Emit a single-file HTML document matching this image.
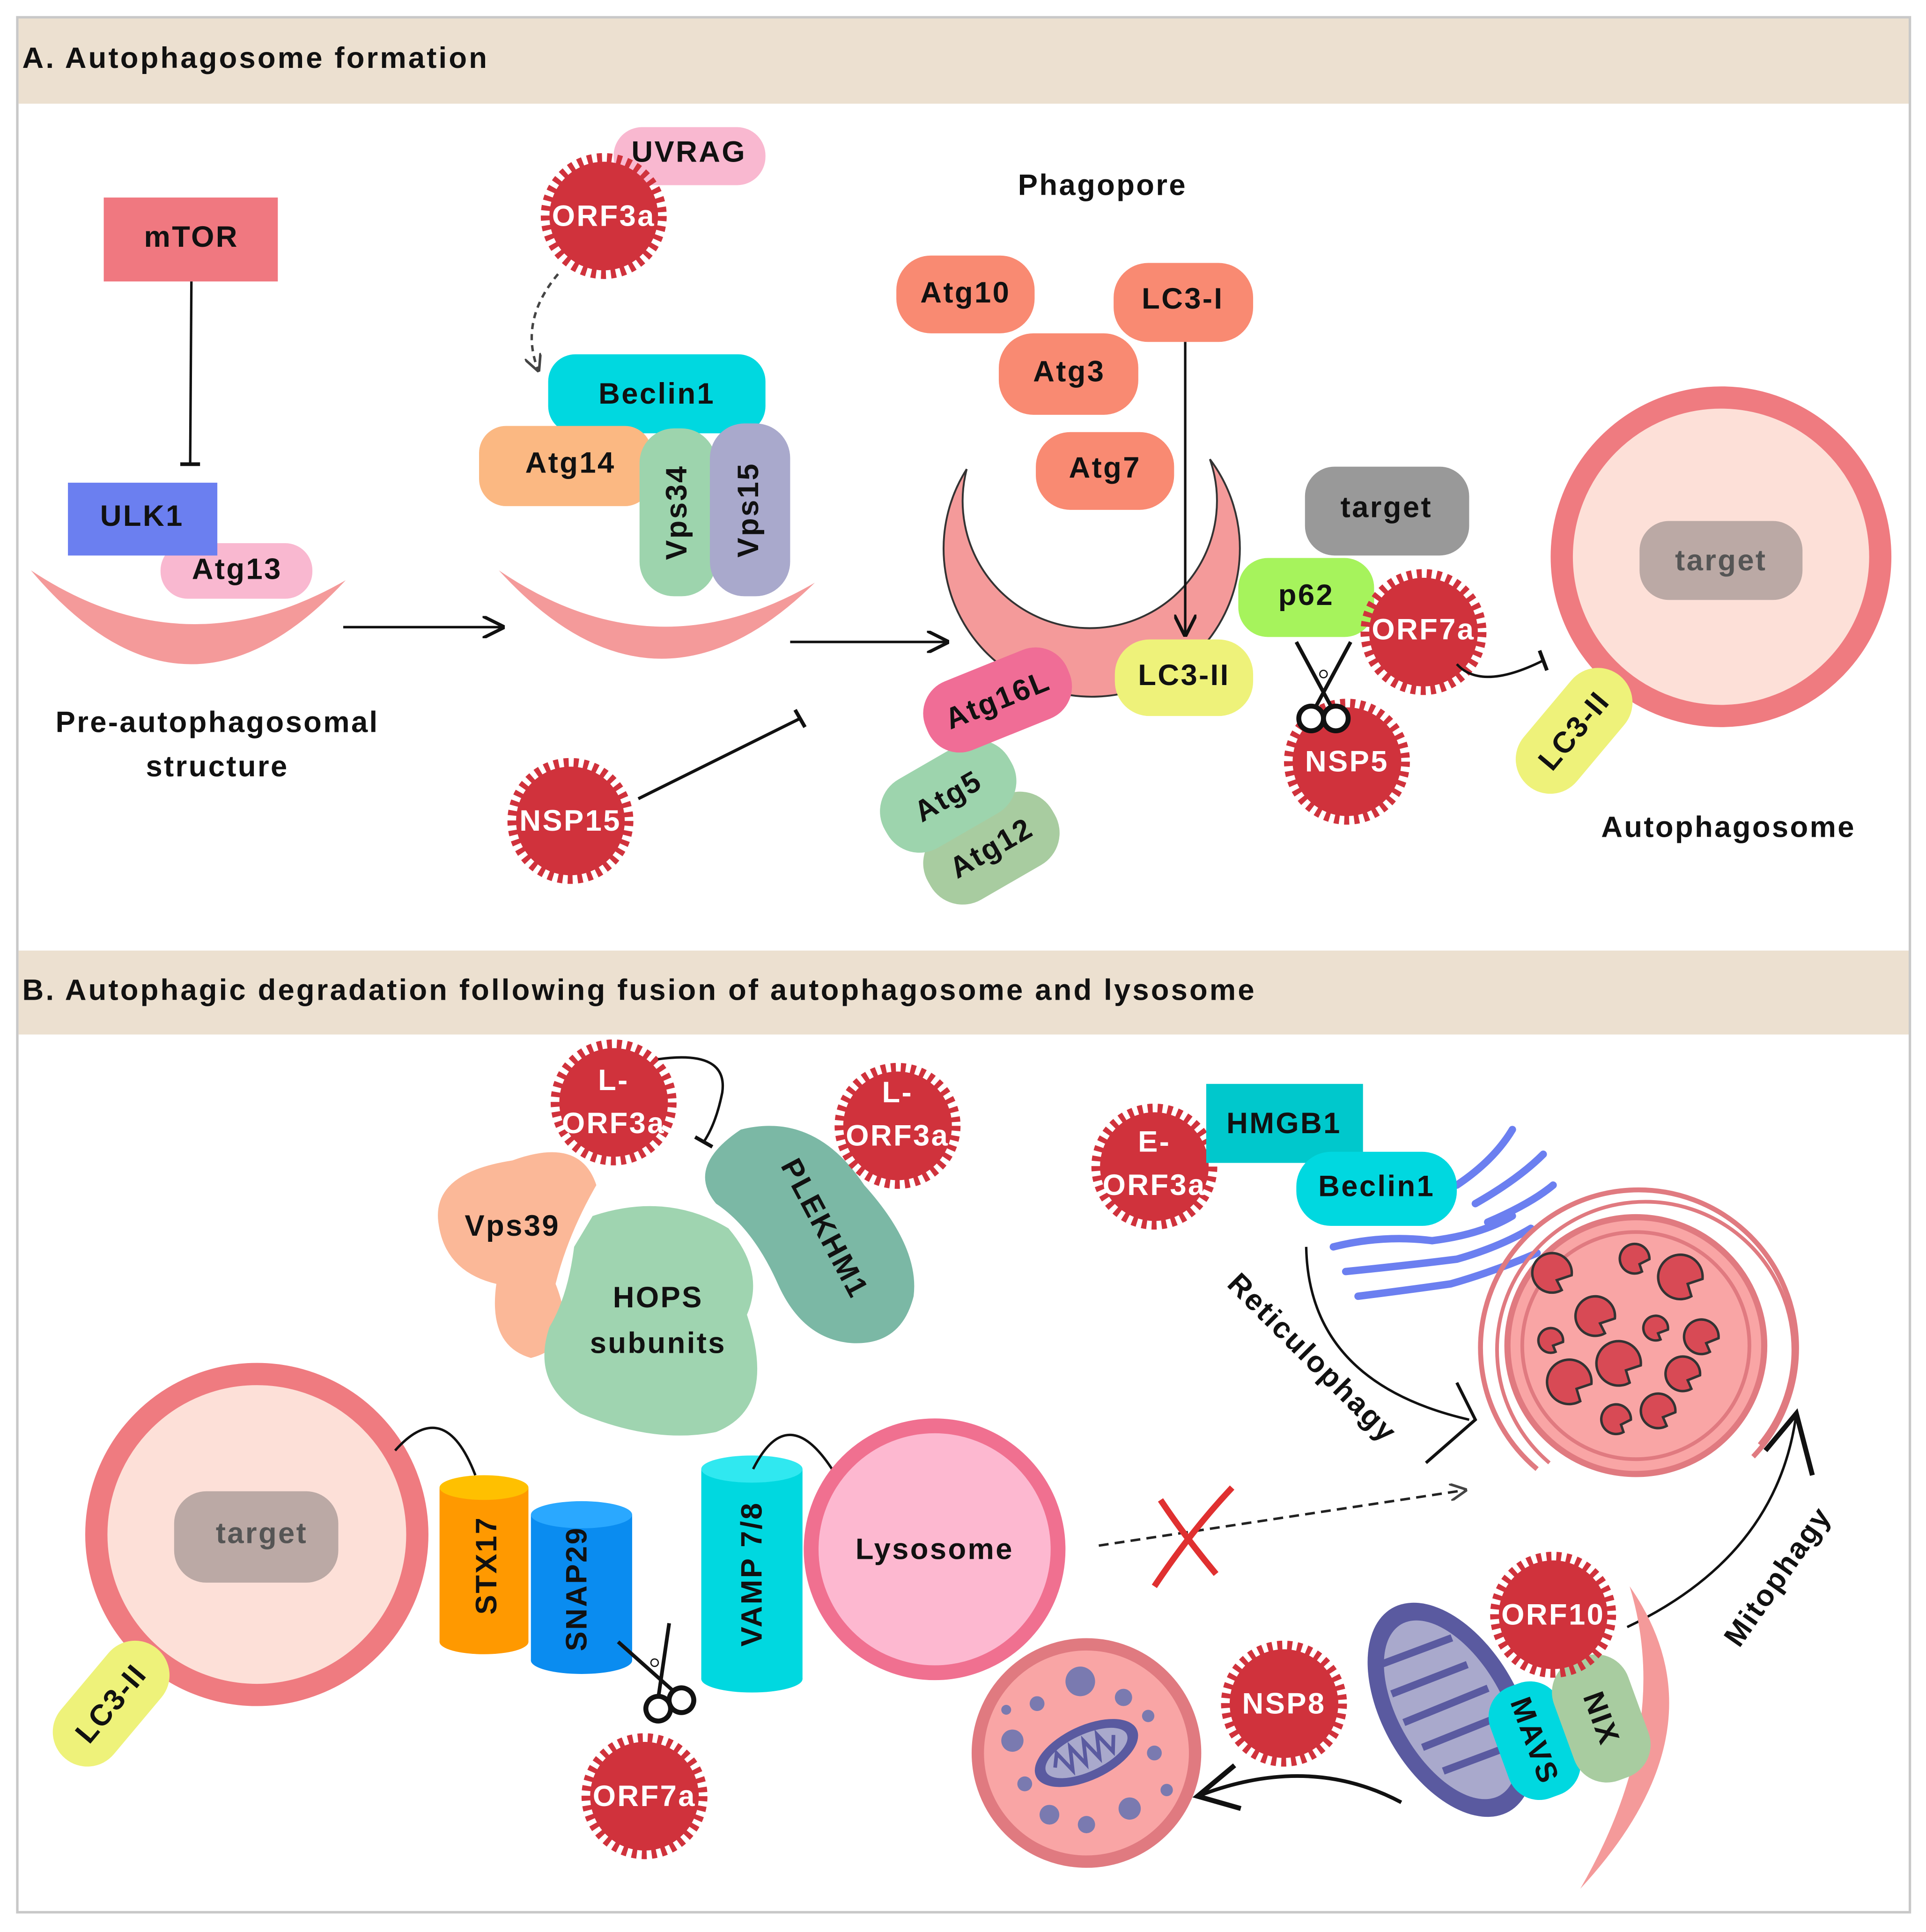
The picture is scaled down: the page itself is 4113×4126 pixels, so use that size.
<!DOCTYPE html>
<html><head><meta charset="utf-8"><style>
html,body{margin:0;padding:0;background:#fff;width:4113px;height:4126px;overflow:hidden}
svg{display:block}
text{font-family:"Liberation Sans",Arial,sans-serif;font-weight:bold;font-size:24px;text-anchor:middle;dominant-baseline:central;fill:#111;letter-spacing:1.3px}
.w{fill:#fff}
.h{letter-spacing:1.6px}
</style></head><body>
<svg width="4113" height="4126" viewBox="0 0 1560 1565" xmlns="http://www.w3.org/2000/svg">
<defs>
<marker id="ah" viewBox="0 0 10 10" refX="9" refY="5" markerWidth="9" markerHeight="9" orient="auto"><path d="M0,0 L10,5 L0,10" fill="none" stroke="#111" stroke-width="1.5"/></marker>
<marker id="ahd" viewBox="0 0 10 10" refX="9" refY="5" markerWidth="7" markerHeight="7" orient="auto"><path d="M0,0 L10,5 L0,10" fill="none" stroke="#444" stroke-width="1.5"/></marker>
<g id="star"><circle r="44" fill="#d0323c"/><circle r="47" fill="none" stroke="#d0323c" stroke-width="8" stroke-dasharray="4 4"/></g>
<g id="sc"><line x1="-22" y1="-40" x2="6" y2="12" stroke="#111" stroke-width="3"/><line x1="22" y1="-40" x2="-6" y2="12" stroke="#111" stroke-width="3"/><circle cx="-10" cy="22" r="10" fill="#fff" stroke="#111" stroke-width="4"/><circle cx="10" cy="22" r="10" fill="#fff" stroke="#111" stroke-width="4"/><circle r="3" cy="-14" fill="#fff" stroke="#111"/></g>
</defs>
<rect x="0" y="0" width="1560" height="1565" fill="#fff"/>
<rect x="14" y="14" width="1533" height="1535" fill="#fff" stroke="#c8c8c8" stroke-width="2"/>
<rect x="15" y="15" width="1531" height="69" fill="#ece0d0"/>
<text class="h" x="18" y="47" style="text-anchor:start">A. Autophagosome formation</text>
<rect x="15" y="770" width="1531" height="68" fill="#ece0d0"/>
<text class="h" x="18" y="802" style="text-anchor:start">B. Autophagic degradation following fusion of autophagosome and lysosome</text>

<rect x="84" y="160" width="141" height="68" fill="#f07880"/><text x="155" y="192">mTOR</text>
<line x1="155" y1="228" x2="154" y2="376" stroke="#111" stroke-width="2"/><line x1="146" y1="376" x2="162" y2="376" stroke="#111" stroke-width="3"/>
<path d="M25,462 Q150,610 280,470 Q150,545 25,462 Z" fill="#f49a9a"/>
<rect x="130" y="440" width="123" height="45" rx="22" fill="#f9b8d0"/><text x="192" y="461">Atg13</text>
<rect x="55" y="391" width="121" height="59" fill="#6b7ff0"/><text x="115" y="418">ULK1</text>
<line x1="278" y1="508" x2="407" y2="508" stroke="#111" stroke-width="2" marker-end="url(#ah)"/>
<text x="176" y="585">Pre-autophagosomal</text><text x="176" y="621">structure</text>

<rect x="497" y="103" width="123" height="47" rx="23" fill="#f9b8d0"/><text x="558" y="123">UVRAG</text>
<use href="#star" x="489" y="175"/><text class="w" x="489" y="175">ORF3a</text>
<path d="M452,222 Q420,260 436,300" fill="none" stroke="#444" stroke-width="2" stroke-dasharray="5 4" marker-end="url(#ahd)"/>
<path d="M404,462 Q530,600 660,472 Q530,548 404,462 Z" fill="#f49a9a"/>
<rect x="444" y="287" width="176" height="64" rx="22" fill="#00d8e0"/><text x="532" y="319">Beclin1</text>
<rect x="388" y="345" width="140" height="65" rx="22" fill="#fbb882"/><text x="462" y="375">Atg14</text>
<rect x="518" y="347" width="62" height="136" rx="28" fill="#9dd4ad"/><text transform="translate(548,415) rotate(-90)">Vps34</text>
<rect x="575" y="343" width="65" height="140" rx="28" fill="#a9a9cc"/><text transform="translate(606,413) rotate(-90)">Vps15</text>
<line x1="640" y1="520" x2="767" y2="520" stroke="#111" stroke-width="2" marker-end="url(#ah)"/>
<use href="#star" x="462" y="665"/><text class="w" x="462" y="665">NSP15</text>
<line x1="517" y1="647" x2="648" y2="582" stroke="#111" stroke-width="2.5"/><line x1="644" y1="575" x2="652" y2="589" stroke="#111" stroke-width="3"/>

<text x="893" y="150">Phagopore</text>
<path d="M783,380 A120,120 0 1 0 980,372 A103,103 0 1 1 783,380 Z" fill="#f49a9a" stroke="#333" stroke-width="1.5"/>
<rect x="726" y="207" width="112" height="63" rx="28" fill="#f98a72"/><text x="782" y="237">Atg10</text>
<rect x="809" y="270" width="113" height="66" rx="28" fill="#f98a72"/><text x="866" y="301">Atg3</text>
<rect x="902" y="213" width="113" height="64" rx="28" fill="#f98a72"/><text x="958" y="242">LC3-I</text>
<rect x="839" y="350" width="112" height="63" rx="28" fill="#f98a72"/><text x="895" y="379">Atg7</text>
<line x1="960" y1="277" x2="960" y2="514" stroke="#111" stroke-width="2" marker-end="url(#ah)"/>
<rect x="903" y="518" width="112" height="62" rx="28" fill="#eef27a"/><text x="959" y="547">LC3-II</text>
<g transform="translate(803,687) rotate(-30)"><rect x="-58" y="-32" width="116" height="64" rx="30" fill="#a8cca0"/><text>Atg12</text></g>
<g transform="translate(768,645) rotate(-30)"><rect x="-58" y="-32" width="116" height="64" rx="30" fill="#9dd4ad"/><text>Atg5</text></g>
<g transform="translate(808,567) rotate(-22)"><rect x="-62" y="-30" width="124" height="60" rx="28" fill="#f06d96"/><text>Atg16L</text></g>

<rect x="1057" y="378" width="133" height="72" rx="24" fill="#999"/><text x="1123" y="411">target</text>
<rect x="1003" y="452" width="110" height="64" rx="24" fill="#a6f35c"/><text x="1058" y="482">p62</text>
<use href="#star" x="1153" y="512"/><text class="w" x="1153" y="510">ORF7a</text>
<use href="#star" x="1091" y="617"/><text class="w" x="1091" y="617">NSP5</text>
<use href="#sc" x="1072" y="560"/>
<path d="M1180,538 Q1200,560 1250,535" fill="none" stroke="#111" stroke-width="2"/><line x1="1247" y1="527" x2="1253" y2="543" stroke="#111" stroke-width="3"/>
<circle cx="1394" cy="451" r="129" fill="#fde0d8" stroke="#ef7b80" stroke-width="18"/>
<rect x="1328" y="422" width="132" height="64" rx="24" fill="#bba9a5"/><text x="1394" y="454" style="fill:#555">target</text>
<g transform="translate(1275,592) rotate(-50)"><rect x="-58" y="-28" width="116" height="56" rx="28" fill="#eef27a"/><text>LC3-II</text></g>
<text x="1400" y="670">Autophagosome</text>

<path d="M415,940 Q470,920 483,960 Q460,1000 450,1040 Q470,1090 430,1100 Q395,1090 402,1040 Q360,1030 355,990 Q350,950 415,940 Z" fill="#fbb898"/>
<text x="415" y="993">Vps39</text>
<path d="M480,985 Q540,965 590,995 Q620,1030 605,1065 Q630,1140 580,1160 Q530,1170 470,1145 Q430,1120 445,1075 Q460,1050 465,1010 Z" fill="#9fd4b0"/>
<text x="533" y="1051">HOPS</text><text x="533" y="1088">subunits</text>
<path d="M600,915 Q660,900 700,960 Q745,1010 740,1050 Q730,1090 690,1088 Q650,1085 630,1040 Q610,995 580,975 Q555,945 600,915 Z" fill="#7bb8a5"/>
<text transform="translate(668,995) rotate(62)">PLEKHM1</text>
<use href="#star" x="497" y="893"/><text class="w" x="497" y="875">L-</text><text class="w" x="497" y="910">ORF3a</text>
<path d="M533,858 Q590,850 585,885 Q580,910 570,925" fill="none" stroke="#111" stroke-width="2"/><line x1="563" y1="921" x2="577" y2="929" stroke="#111" stroke-width="3"/>
<use href="#star" x="727" y="912"/><text class="w" x="727" y="885">L-</text><text class="w" x="727" y="920">ORF3a</text>

<g fill="none" stroke="#6b7ff0" stroke-width="6" stroke-linecap="round">
<path d="M1080,1010 Q1120,1000 1160,1005 Q1200,1000 1225,985"/>
<path d="M1090,1030 Q1140,1025 1180,1020 Q1215,1010 1240,995"/>
<path d="M1100,1050 Q1140,1045 1175,1040 Q1210,1030 1245,1015"/>
<path d="M1180,960 Q1210,940 1225,915"/><path d="M1195,975 Q1230,955 1250,935"/><path d="M1205,990 Q1240,975 1258,960"/>
</g>
<use href="#star" x="935" y="945"/><text class="w" x="935" y="925">E-</text><text class="w" x="935" y="960">ORF3a</text>
<rect x="977" y="878" width="127" height="64" fill="#00c8cc"/><text x="1040" y="910">HMGB1</text>
<rect x="1050" y="933" width="130" height="60" rx="28" fill="#00d8e0"/><text x="1115" y="961">Beclin1</text>
<text transform="translate(1063,1100) rotate(45)">Reticulophagy</text>
<path d="M1058,1010 Q1060,1120 1190,1150" fill="none" stroke="#111" stroke-width="2"/>
<path d="M1180,1120 L1195,1150 L1155,1185" fill="none" stroke="#111" stroke-width="2.5"/>
<path d="M1245,1190 A128,128 0 1 1 1420,1180" fill="none" stroke="#e07a80" stroke-width="4"/>
<path d="M1255,1185 A120,120 0 1 1 1425,1170" fill="none" stroke="#e07a80" stroke-width="3"/>
<circle cx="1325" cy="1090" r="104" fill="#f9a5a5" stroke="#e07a80" stroke-width="5"/>
<circle cx="1325" cy="1090" r="92" fill="none" stroke="#e07a80" stroke-width="3"/>
<g fill="#d84a55" stroke="#333" stroke-width="2">
<path d="M1265,1045 a16,16 0 1 1 8,-12 l-12,4z"/><path d="M1330,1030 a12,12 0 1 1 6,-10 l-8,4z"/><path d="M1370,1050 a18,18 0 1 1 9,-14 l-12,4z"/>
<path d="M1300,1080 a16,16 0 1 1 8,-12 l-12,4z"/><path d="M1345,1085 a10,10 0 1 1 6,-8 l-8,3z"/><path d="M1385,1095 a14,14 0 1 1 7,-11 l-10,4z"/>
<path d="M1280,1135 a18,18 0 1 1 9,-14 l-12,4z"/><path d="M1320,1120 a18,18 0 1 1 9,-14 l-12,4z"/><path d="M1370,1125 a14,14 0 1 1 7,-11 l-10,4z"/>
<path d="M1315,1160 a12,12 0 1 1 6,-10 l-8,4z"/><path d="M1350,1155 a14,14 0 1 1 7,-11 l-10,4z"/><path d="M1260,1095 a10,10 0 1 1 6,-8 l-8,3z"/>
</g>
<path d="M1318,1318 Q1440,1260 1455,1145" fill="none" stroke="#111" stroke-width="2"/>
<path d="M1430,1175 L1455,1145 L1468,1195" fill="none" stroke="#111" stroke-width="4"/>
<text transform="translate(1440,1277) rotate(-55)">Mitophagy</text>

<circle cx="208" cy="1243" r="130" fill="#fde0d8" stroke="#ef7b80" stroke-width="18"/>
<rect x="141" y="1208" width="133" height="74" rx="26" fill="#bba9a5"/><text x="212" y="1242" style="fill:#555">target</text>
<g transform="translate(90,1380) rotate(-50)"><rect x="-58" y="-28" width="116" height="56" rx="28" fill="#eef27a"/><text>LC3-II</text></g>
<path d="M320,1175 Q360,1130 385,1195" fill="none" stroke="#111" stroke-width="2"/>
<rect x="356" y="1205" width="72" height="125" fill="#ff9900"/><ellipse cx="392" cy="1330" rx="36" ry="10" fill="#ff9900"/><ellipse cx="392" cy="1205" rx="36" ry="10" fill="#ffc000"/>
<text transform="translate(394,1268) rotate(-90)">STX17</text>
<rect x="430" y="1227" width="82" height="118" fill="#0a8cf0"/><ellipse cx="471" cy="1345" rx="41" ry="11" fill="#0a8cf0"/><ellipse cx="471" cy="1227" rx="41" ry="11" fill="#2aa8ff"/>
<text transform="translate(467,1287) rotate(-90)">SNAP29</text>
<rect x="568" y="1190" width="82" height="170" fill="#00d8e0"/><ellipse cx="609" cy="1360" rx="41" ry="11" fill="#00d8e0"/><ellipse cx="609" cy="1190" rx="41" ry="11" fill="#30e8f0"/>
<text transform="translate(609,1275) rotate(-90)">VAMP 7/8</text>
<path d="M610,1190 Q640,1130 680,1200" fill="none" stroke="#111" stroke-width="2"/>
<circle cx="757" cy="1255" r="100" fill="#fdb8d0" stroke="#f07090" stroke-width="12"/><text x="757" y="1255">Lysosome</text>
<use href="#sc" transform="translate(535,1360) rotate(-20)"/>
<use href="#star" x="522" y="1455"/><text class="w" x="522" y="1455">ORF7a</text>
<line x1="890" y1="1252" x2="1187" y2="1207" stroke="#222" stroke-width="2" stroke-dasharray="8 5" marker-end="url(#ahd)"/>
<path d="M940,1215 Q960,1245 985,1275 M998,1205 Q965,1240 935,1285" fill="none" stroke="#e03030" stroke-width="5"/>

<path d="M1320,1285 Q1400,1400 1280,1530 Q1355,1400 1320,1285 Z" fill="#f49a9a"/>
<g transform="translate(1175,1385) rotate(-30)"><ellipse rx="55" ry="95" fill="#5a5aa0"/><ellipse rx="42" ry="80" fill="#a9a9cc"/>
<path d="M-30,-60 L30,-50 M-35,-35 L30,-25 M-38,-10 L35,0 M-35,15 L35,25 M-30,40 L30,50" stroke="#5a5aa0" stroke-width="6"/></g>
<g transform="translate(1243,1410) rotate(70)"><rect x="-48" y="-30" width="96" height="60" rx="26" fill="#00d8e0"/><text>MAVS</text></g>
<g transform="translate(1297,1392) rotate(70)"><rect x="-52" y="-32" width="104" height="64" rx="28" fill="#a8cca0"/><text>NIX</text></g>
<use href="#star" x="1258" y="1308"/><text class="w" x="1258" y="1308">ORF10</text>
<use href="#star" x="1040" y="1380"/><text class="w" x="1040" y="1380">NSP8</text>
<path d="M1135,1460 Q1060,1420 970,1455" fill="none" stroke="#111" stroke-width="3"/>
<path d="M1000,1430 L970,1455 L1005,1465" fill="none" stroke="#111" stroke-width="4"/>
<circle cx="880" cy="1420" r="88" fill="#f9a5a5" stroke="#e07a80" stroke-width="10"/>
<g fill="#7a7ab0"><circle cx="875" cy="1362" r="12"/><circle cx="840" cy="1380" r="6"/><circle cx="910" cy="1375" r="7"/><circle cx="820" cy="1410" r="9"/><circle cx="830" cy="1445" r="6"/><circle cx="850" cy="1470" r="8"/><circle cx="880" cy="1478" r="7"/><circle cx="915" cy="1465" r="9"/><circle cx="935" cy="1420" r="6"/><circle cx="930" cy="1390" r="5"/><circle cx="815" cy="1385" r="4"/><circle cx="945" cy="1450" r="5"/></g>
<g transform="translate(880,1420) rotate(-25)"><ellipse rx="45" ry="22" fill="#5a5aa0"/><ellipse rx="36" ry="15" fill="#a9a9cc"/><path d="M-28,0 L-22,-10 L-16,8 L-10,-10 L-4,8 L2,-10 L8,8 L14,-10 L20,8 L26,-4" fill="none" stroke="#5a5aa0" stroke-width="3"/></g>
</svg>
</body></html>
